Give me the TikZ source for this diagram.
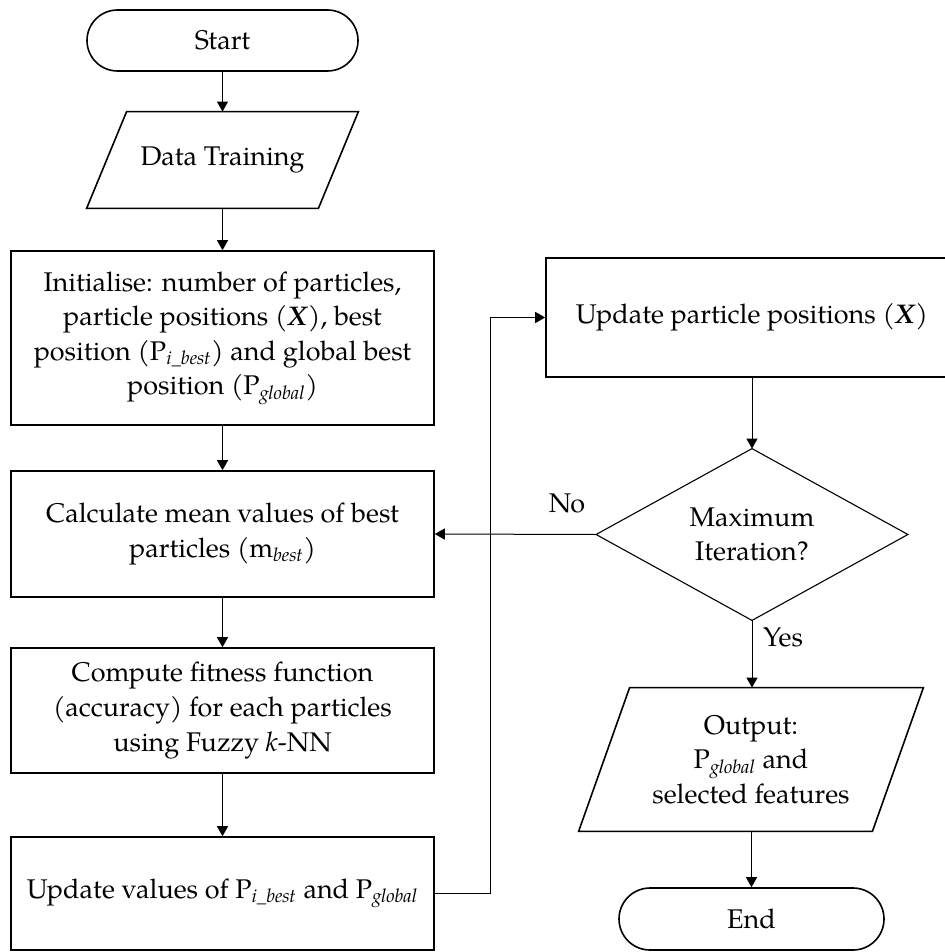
\documentclass[tikz,border=0pt]{standalone}
\usepackage{fontspec}
\setmainfont{TeX Gyre Pagella}
\usetikzlibrary{arrows.meta,calc}
\begin{document}
\begin{tikzpicture}[x=0.5pt,y=-0.5pt,
  every node/.style={font=\fontsize{13.5}{17.3}\selectfont, inner sep=0pt, align=center},
  box/.style={draw, line width=0.8pt, rectangle},
  term/.style={draw, line width=0.8pt, rectangle},
  boxline/.style={line width=0.8pt, line join=miter},
  thinline/.style={line width=0.55pt},
  arr/.style={line width=0.5pt, -{Triangle[length=5pt,width=5.5pt]}},
  lbl/.style={font=\fontsize{13.5}{17.3}\selectfont}
]
\useasboundingbox (0,0) rectangle (945,952);
\fill[white] (0,0) rectangle (945,952);

% left column
\node[term, rounded corners=15.25pt, minimum width=135.5pt, minimum height=30.5pt] (start) at (222.5,40.5) {Start};

\node[rectangle, minimum width=135.5pt, minimum height=48pt] (data) at (222.5,160) {Data Training};
\draw[boxline] ($(data.north west)+(40,0)$) -- (data.north east) -- ($(data.south east)+(-40,0)$) -- (data.south west) -- cycle;

\node[box, minimum width=211.5pt, minimum height=87pt] (init) at (222.5,338)
  {Initialise: number of particles,\\ particle positions (\textbf{\textit{X}}), best\\ position (P\textsubscript{\textit{i\_best}}) and global best\\ position (P\textsubscript{\textit{global}})};

\node[box, minimum width=211.5pt, minimum height=63pt] (calc) at (222.5,534)
  {Calculate mean values of best\\ particles (m\textsubscript{\textit{best}})};

\node[box, minimum width=211.5pt, minimum height=62.5pt] (comp) at (222.5,710.5)
  {Compute fitness function\\ (accuracy) for each particles\\ using Fuzzy \textit{k}-NN};

\node[box, minimum width=211.5pt, minimum height=56.5pt] (updv) at (222.5,893.5)
  {Update values of P\textsubscript{\textit{i\_best}} and P\textsubscript{\textit{global}}};

% right column
\node[box, minimum width=206pt, minimum height=59.5pt] (updp) at (752,317.5)
  {Update particle positions (\textbf{\textit{X}})};

\node[rectangle, minimum width=155.5pt, minimum height=85.5pt] (dec) at (752,534.5)
  {Maximum\\ Iteration?};
\draw[thinline] (dec.north) -- (dec.east) -- (dec.south) -- (dec.west) -- cycle;

\node[rectangle, minimum width=172pt, minimum height=71.5pt] (out) at (751,759.5)
  {Output:\\ P\textsubscript{\textit{global}} and\\ selected features};
\draw[boxline] ($(out.north west)+(51,0)$) -- (out.north east) -- ($(out.south east)+(-51,0)$) -- (out.south west) -- cycle;

\node[term, rounded corners=15.5pt, minimum width=132.5pt, minimum height=31pt] (end) at (751.5,919) {End};

% connectors
\draw[arr] (start.south) -- (data.north);
\draw[arr] (data.south) -- (init.north);
\draw[arr] (init.south) -- (calc.north);
\draw[arr] (calc.south) -- (comp.north);
\draw[arr] (comp.south) -- (updv.north);
\draw[arr] (updv.east) -- ++(56,0) |- (updp.west);
\draw[arr] (updp.south -| dec.north) -- (dec.north);
\draw[arr] (dec.west) -- (calc.east);
\draw[arr] (dec.south) -- (out.north -| dec.south);
\draw[arr] (out.south -| end.north) -- (end.north);

% labels
\node[lbl] (no) at (567,503) {No};
\node[lbl] (yes) at (783,637) {Yes};
\end{tikzpicture}
\end{document}
